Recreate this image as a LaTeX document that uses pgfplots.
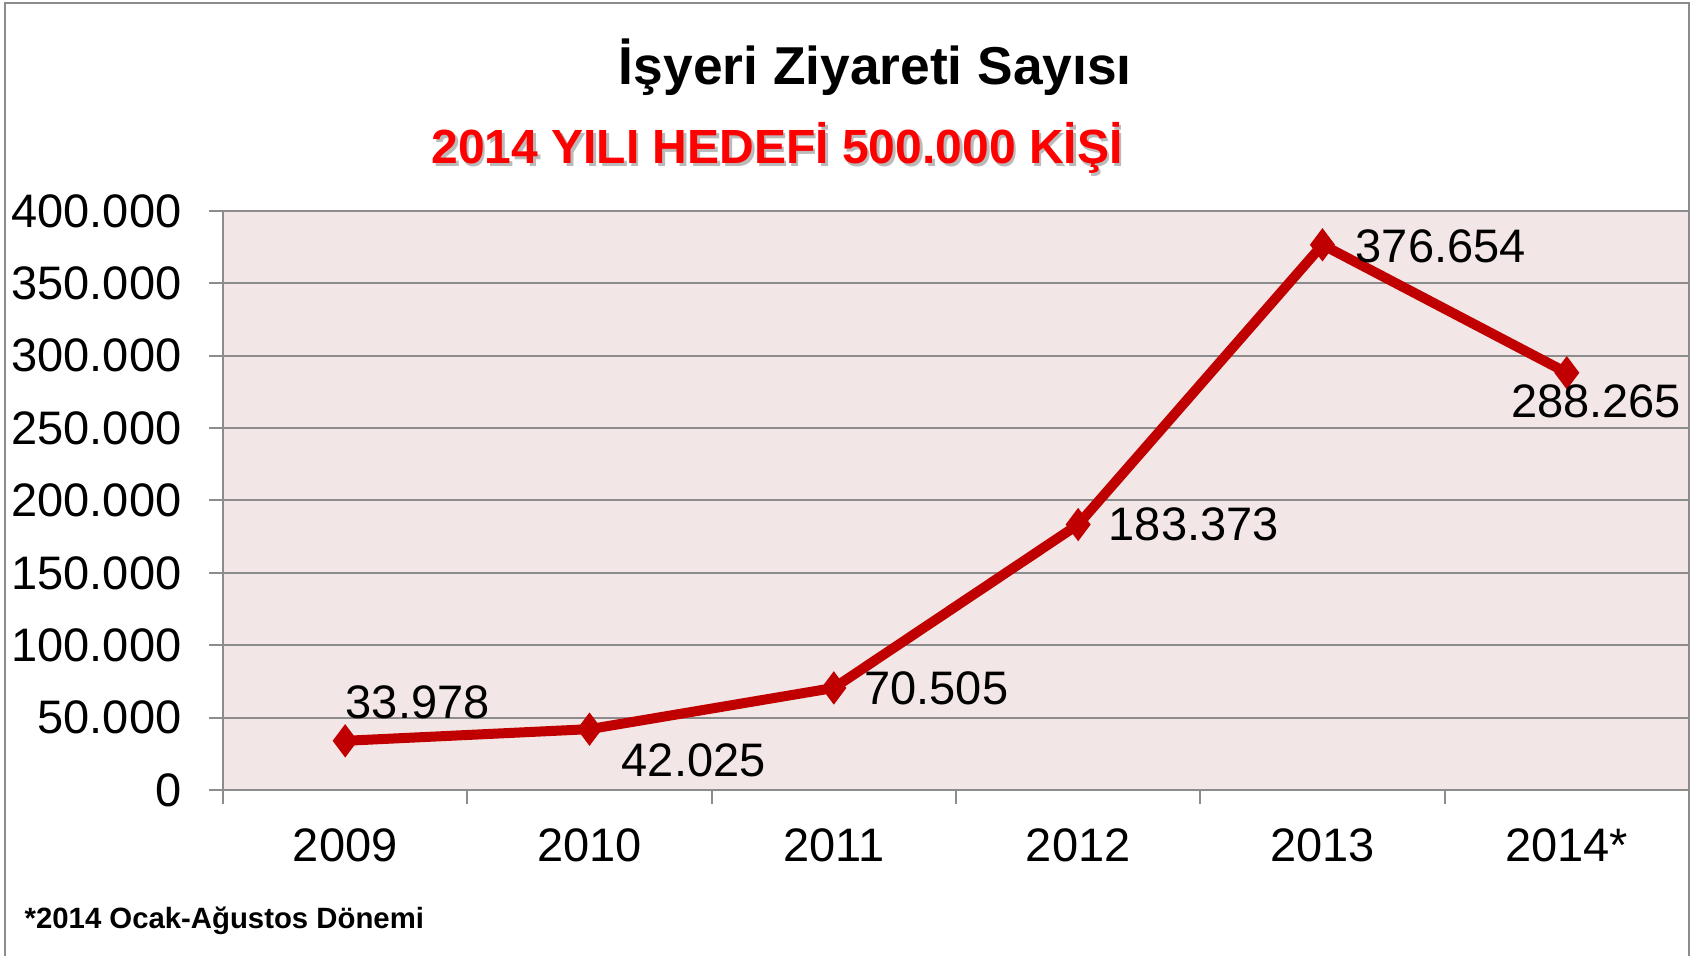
\documentclass[border=0pt]{standalone}
\usepackage{fontspec}
\setmainfont{Liberation Sans}
\usepackage{pgfplots}
\pgfplotsset{compat=1.18}
\definecolor{bgpink}{RGB}{242,230,230}
\definecolor{gridgray}{RGB}{140,140,140}
\definecolor{linered}{RGB}{192,0,0}
\newcommand{\lbl}{\fontsize{14.1}{16}\selectfont}
\begin{document}
\begin{tikzpicture}
\useasboundingbox (0,0) rectangle (509.4pt,286.8pt);
\fill[white] (0,0) rectangle (509.4pt,286.8pt);
\draw[gridgray, line width=0.8pt] (1.5pt,0) -- (1.5pt,285.9pt) -- (506.7pt,285.9pt) -- (506.7pt,0);
\begin{axis}[
  at={(66.9pt,49.8pt)}, anchor=south west,
  scale only axis, width=439.8pt, height=173.7pt,
  xmin=-0.5, xmax=5.5, ymin=0, ymax=400000,
  scaled y ticks=false,
  axis background/.style={fill=bgpink},
  axis line style={gridgray, line width=0.6pt},
  tick align=outside, tick pos=left,
  major tick length=4.2pt,
  tick style={gridgray, line width=0.6pt},
  xtick={-0.5,0.5,1.5,2.5,3.5,4.5,5.5},
  xticklabels={},
  extra x ticks={0,1,2,3,4,5},
  extra x tick labels={2009,2010,2011,2012,2013,2014*},
  extra x tick style={major tick length=0pt, xticklabel style={font=\lbl, anchor=north, inner sep=0pt, yshift=-11.4pt}},
  ytick={0,50000,100000,150000,200000,250000,300000,350000,400000},
  yticklabels={0,50.000,100.000,150.000,200.000,250.000,300.000,350.000,400.000},
  yticklabel style={font=\lbl, anchor=east, inner sep=0pt, xshift=-8.1pt},
  ymajorgrids, grid style={gridgray, line width=0.6pt},
  clip=false,
]
\addplot[linered, line width=3pt, mark=diamond*, mark size=4.6pt,
  mark options={solid, fill=linered, draw=linered, line width=0.5pt}]
  coordinates {(0,33978) (1,42025) (2,70505) (3,183373) (4,376654) (5,288265)};
\addplot[draw=none, nodes near coords, point meta=explicit symbolic,
  nodes near coords style={font=\lbl, anchor=west, inner sep=0pt, xshift=0pt, yshift=11.6pt}]
  coordinates {(0,33978) [33.978]};
\addplot[draw=none, nodes near coords, point meta=explicit symbolic,
  nodes near coords style={font=\lbl, anchor=west, inner sep=0pt, xshift=9.5pt, yshift=-9.2pt}]
  coordinates {(1,42025) [42.025]};
\addplot[draw=none, nodes near coords, point meta=explicit symbolic,
  nodes near coords style={font=\lbl, anchor=west, inner sep=0pt, xshift=9pt, yshift=0pt}]
  coordinates {(2,70505) [70.505] (3,183373) [183.373]};
\addplot[draw=none, nodes near coords, point meta=explicit symbolic,
  nodes near coords style={font=\lbl, anchor=west, inner sep=0pt, xshift=9.8pt, yshift=-0.4pt}]
  coordinates {(4,376654) [376.654]};
\addplot[draw=none, nodes near coords, point meta=explicit symbolic,
  nodes near coords style={font=\lbl, anchor=center, inner sep=0pt, xshift=8.8pt, yshift=-8.7pt}]
  coordinates {(5,288265) [288.265]};
\end{axis}
\node[anchor=base, inner sep=0pt, font=\fontsize{16}{18}\selectfont\bfseries] at (262.6pt,261.4pt) {İşyeri Ziyareti Sayısı};
\node[anchor=base, inner sep=0pt, font=\fontsize{14.4}{17}\selectfont\bfseries, text=black!45, opacity=0.6] at (233.9pt,236.9pt) {2014 YILI HEDEFİ 500.000 KİŞİ};
\node[anchor=base, inner sep=0pt, font=\fontsize{14.4}{17}\selectfont\bfseries, text=red] at (233.1pt,237.7pt) {2014 YILI HEDEFİ 500.000 KİŞİ};
\node[anchor=base west, inner sep=0pt, font=\fontsize{8.8}{10}\selectfont\bfseries] at (7.2pt,8.1pt) {*2014 Ocak-Ağustos Dönemi};
\end{tikzpicture}
\end{document}
